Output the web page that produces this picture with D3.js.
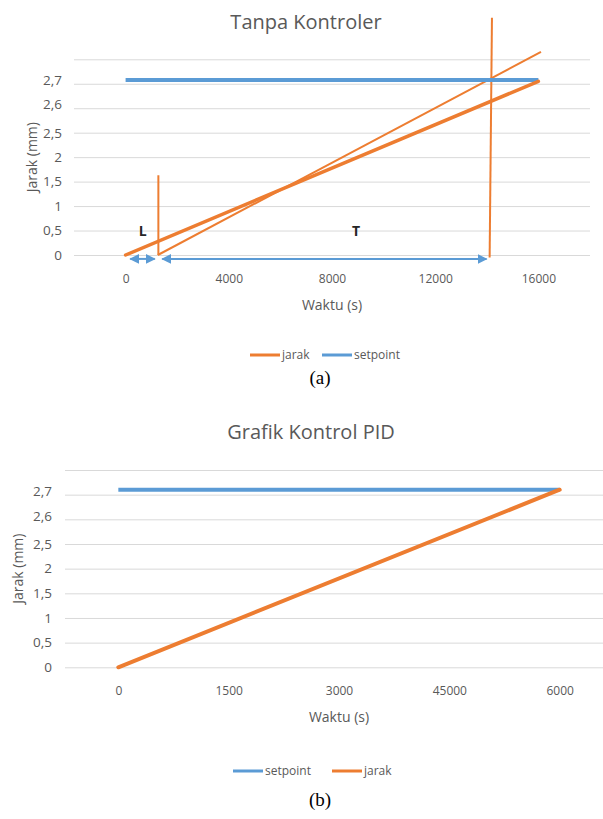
<!DOCTYPE html>
<html lang="id">
<head>
  <meta charset="UTF-8">
  <title>Tanpa Kontroler / Grafik Kontrol PID</title>
  <style>
    body { margin: 0; background: #fff; }
    svg text { font-family: "Open Sans", sans-serif; }
    .grid line { stroke: #d9d9d9; stroke-width: 1; }
    .grid text { fill: #595959; font-size: 13.5px; }
    .xaxis text { fill: #595959; font-size: 12px; }
    .title { fill: #595959; font-size: 20px; }
    .axis-title { fill: #595959; font-size: 14px; }
    .legend text { fill: #595959; font-size: 12px; }
    .caption { font-family: "Liberation Serif", "DejaVu Serif", serif !important; font-size: 19px; fill: #000; }
  </style>
</head>
<body>
  <div id="chart"></div>

  <script src="https://cdn.jsdelivr.net/npm/d3@7"></script>
  <script>
    // y axis: Excel-style ticks, evenly spaced even though the values are not
    const yTickVals = [0, 0.5, 1, 1.5, 2, 2.5, 2.6, 2.7, 2.8];
    const yTickLabels = ["0", "0,5", "1", "1,5", "2", "2,5", "2,6", "2,7", ""];

    // (a) Tanpa Kontroler
    const aXTicks = [0, 4000, 8000, 12000, 16000];
    const aXLabels = ["0", "4000", "8000", "12000", "16000"];
    const aJarak = [[0, 0], [16000, 2.71]];
    const aSetpoint = [[0, 2.715], [16000, 2.715]];
    const aTangent = [[1250, 0], [16100, 2.83]];
    const aLagLine = [[1270, 0], [1270, 1.63]];
    const aRiseLine = [[14110, -0.05], [14200, 2.97]];
    const aArrows = [[180, 1130], [1420, 13990]];   // L and T spans, in seconds
    const aArrowY = -0.08;
    const aMarks = [{ t: "L", x: 660, y: 0.48 }, { t: "T", x: 8930, y: 0.48 }];

    // (b) Grafik Kontrol PID
    const bXTicks = [0, 1500, 3000, 4500, 6000];
    const bXLabels = ["0", "1500", "3000", "45000", "6000"];
    const bSetpoint = [[0, 2.72], [6000, 2.72]];
    const bJarak = [[0, 0], [6000, 2.72]];

    const orange = "#ed7d31";
    const blue = "#5b9bd5";

    const svg = d3.select("#chart").append("svg")
      .attr("width", 603)
      .attr("height", 819);

    const defs = svg.append("defs");
    function arrowMarker(id, orient) {
      defs.append("marker")
        .attr("id", id)
        .attr("viewBox", "0 0 10 10")
        .attr("refX", 9).attr("refY", 5)
        .attr("markerWidth", 5).attr("markerHeight", 5)
        .attr("markerUnits", "strokeWidth")
        .attr("orient", orient)
        .append("path")
        .attr("d", "M0,0 L10,5 L0,10 z")
        .attr("fill", blue);
    }
    arrowMarker("arr-end", "auto");
    arrowMarker("arr-start", "auto-start-reverse");

    // one panel = gridlines, y labels, x labels, titles, legend
    function panel(opt) {
      const g = svg.append("g");
      const x = d3.scaleLinear().domain(opt.xDomain).range(opt.xRange);
      const step = (opt.yBottom - opt.yTop) / (yTickVals.length - 1);
      const y = d3.scaleLinear()
        .domain(yTickVals)
        .range(yTickVals.map((d, i) => opt.yBottom - i * step));

      const gridG = g.append("g")
        .attr("class", "grid")
        .attr("transform", `translate(${opt.xRange[0]},0)`)
        .call(d3.axisLeft(y)
          .tickValues(yTickVals)
          .tickFormat((d, i) => yTickLabels[i])
          .tickSize(-(opt.xRange[1] - opt.xRange[0]))
          .tickPadding(opt.labelPad));
      gridG.select(".domain").remove();
      // the two top labels were typed in darker and sit a bit high
      gridG.selectAll(".tick text")
        .filter(d => d === 2.6 || d === 2.7)
        .attr("dy", "0.05em")
        .attr("fill", "#404040");

      const xG = g.append("g")
        .attr("class", "xaxis")
        .attr("transform", `translate(0,${y(0)})`)
        .call(d3.axisBottom(x)
          .tickValues(opt.xTicks)
          .tickFormat((d, i) => opt.xLabels[i])
          .tickSize(0)
          .tickPadding(opt.xPad));
      xG.select(".domain").remove();

      g.append("text").attr("class", "title")
        .attr("x", opt.titleX).attr("y", opt.titleY)
        .attr("text-anchor", "middle")
        .text(opt.title);

      g.append("text").attr("class", "axis-title")
        .attr("transform", `translate(${opt.yTitleX},${(opt.yTop + opt.yBottom) / 2}) rotate(-90)`)
        .attr("text-anchor", "middle")
        .attr("dy", "0.35em")
        .text("Jarak (mm)");

      g.append("text").attr("class", "axis-title")
        .attr("x", (opt.xRange[0] + opt.xRange[1]) / 2)
        .attr("y", opt.xTitleY)
        .attr("text-anchor", "middle")
        .text("Waktu (s)");

      const leg = g.append("g").attr("class", "legend")
        .attr("transform", `translate(0,${opt.legendY})`);
      opt.legend.forEach(item => {
        leg.append("line")
          .attr("x1", item.x).attr("x2", item.x + 30)
          .attr("stroke", item.color).attr("stroke-width", 3);
        leg.append("text")
          .attr("x", item.x + 32).attr("dy", "0.35em")
          .text(item.name);
      });

      g.append("text").attr("class", "caption")
        .attr("x", opt.captionX).attr("y", opt.captionY)
        .attr("text-anchor", "middle")
        .text(opt.caption);

      return { g, x, y };
    }

    // ---- (a)
    const pa = panel({
      xDomain: [-2000, 18000], xRange: [74, 590],
      yTop: 59.3, yBottom: 255, labelPad: 12,
      xTicks: aXTicks, xLabels: aXLabels, xPad: 19,
      title: "Tanpa Kontroler", titleX: 306, titleY: 29,
      yTitleX: 32, xTitleY: 310,
      legendY: 355,
      legend: [{ name: "jarak", color: orange, x: 250 }, { name: "setpoint", color: blue, x: 322 }],
      caption: "(a)", captionX: 320, captionY: 384
    });
    const lineA = d3.line().x(d => pa.x(d[0])).y(d => pa.y(d[1]));

    pa.g.append("path").datum(aTangent)
      .attr("d", lineA).attr("fill", "none")
      .attr("stroke", orange).attr("stroke-width", 2);
    pa.g.append("path").datum(aLagLine)
      .attr("d", lineA).attr("fill", "none")
      .attr("stroke", orange).attr("stroke-width", 2);
    pa.g.append("path").datum(aRiseLine)
      .attr("d", lineA).attr("fill", "none")
      .attr("stroke", orange).attr("stroke-width", 2);
    pa.g.append("path").datum(aSetpoint)
      .attr("d", lineA).attr("fill", "none")
      .attr("stroke", blue).attr("stroke-width", 4);
    pa.g.append("path").datum(aJarak)
      .attr("d", lineA).attr("fill", "none")
      .attr("stroke", orange).attr("stroke-width", 3.5)
      .attr("stroke-linecap", "round");

    pa.g.selectAll(".span-arrow").data(aArrows).join("line")
      .attr("class", "span-arrow")
      .attr("x1", d => pa.x(d[0])).attr("x2", d => pa.x(d[1]))
      .attr("y1", pa.y(aArrowY)).attr("y2", pa.y(aArrowY))
      .attr("stroke", blue).attr("stroke-width", 2)
      .attr("marker-start", "url(#arr-start)")
      .attr("marker-end", "url(#arr-end)");

    pa.g.selectAll(".mark").data(aMarks).join("text")
      .attr("class", "mark")
      .attr("x", d => pa.x(d.x)).attr("y", d => pa.y(d.y))
      .attr("dy", "0.35em")
      .attr("text-anchor", "middle")
      .attr("fill", "#262626")
      .attr("font-size", 14)
      .attr("font-weight", "bold")
      .text(d => d.t);

    // ---- (b)
    const pb = panel({
      xDomain: [-725, 6725], xRange: [65, 613],
      yTop: 470, yBottom: 667.3, labelPad: 13,
      xTicks: bXTicks, xLabels: bXLabels, xPad: 19,
      title: "Grafik Kontrol PID", titleX: 311, titleY: 439,
      yTitleX: 18, xTitleY: 722,
      legendY: 771,
      legend: [{ name: "setpoint", color: blue, x: 233 }, { name: "jarak", color: orange, x: 332 }],
      caption: "(b)", captionX: 320, captionY: 806
    });
    const lineB = d3.line().x(d => pb.x(d[0])).y(d => pb.y(d[1]));

    pb.g.append("path").datum(bSetpoint)
      .attr("d", lineB).attr("fill", "none")
      .attr("stroke", blue).attr("stroke-width", 4);
    pb.g.append("path").datum(bJarak)
      .attr("d", lineB).attr("fill", "none")
      .attr("stroke", orange).attr("stroke-width", 4)
      .attr("stroke-linecap", "round");
  </script>
</body>
</html>
